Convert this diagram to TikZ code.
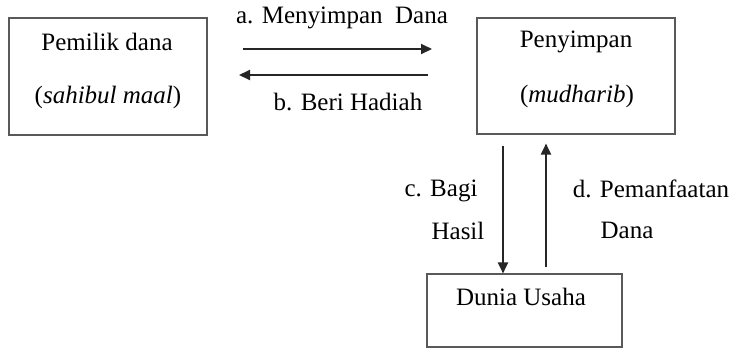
\documentclass[tikz,border=0pt]{standalone}
\usepackage{fontspec}
\setmainfont{Liberation Serif}
\usetikzlibrary{arrows.meta}
\begin{document}
\begin{tikzpicture}[x=1pt,y=-1pt,
  box/.style={draw=black!65,line width=1.1pt,inner sep=0pt},
  txt/.style={font=\fontsize{25}{28}\selectfont,inner sep=0pt},
  arr/.style={line width=2pt,draw=black!85,-{Triangle[length=11pt,width=10pt]}}]
\useasboundingbox (0,0) rectangle (733,349);
% boxes
\node[box,minimum width=198pt,minimum height=117pt] (pemilik) at (108,76.5) {};
\node[box,minimum width=198pt,minimum height=116pt] (penyimpan) at (576,76) {};
\node[box,minimum width=195pt,minimum height=73pt] (dunia) at (524.5,310.5) {};
% box texts
\node[txt] (t1) at (107,41.5) {Pemilik dana};
\node[txt] (t2) at (108,97.5) {(\textit{sahibul maal})};
\node[txt] (t3) at (576,42) {Penyimpan};
\node[txt] (t4) at (577,96) {(\textit{mudharib})};
\node[txt] (t5) at (521,296.5) {Dunia Usaha};
% connectors
\coordinate (a1) at (243,49);
\coordinate (a2) at (432,49);
\coordinate (b1) at (428,75);
\coordinate (b2) at (239,75);
\draw[arr] (a1) -- (a2);
\draw[arr] (b1) -- (b2);
\draw[arr,shorten <=11pt] (503,0 |- penyimpan.south) -- (503,0 |- dunia.north);
\draw[arr,shorten <=6pt,shorten >=9pt] (546,0 |- dunia.north) -- (546,0 |- penyimpan.south);
% labels
\node[txt] (la) at (342,18) {a. Menyimpan\ \ Dana};
\node[txt] (lb) at (348,102) {b. Beri Hadiah};
\node[txt] (lc1) at (441,191) {c. Bagi};
\node[txt] (lc2) at (458,230.5) {Hasil};
\node[txt] (ld1) at (651,189) {d. Pemanfaatan};
\node[txt] (ld2) at (627,230.5) {Dana};
\end{tikzpicture}
\end{document}
